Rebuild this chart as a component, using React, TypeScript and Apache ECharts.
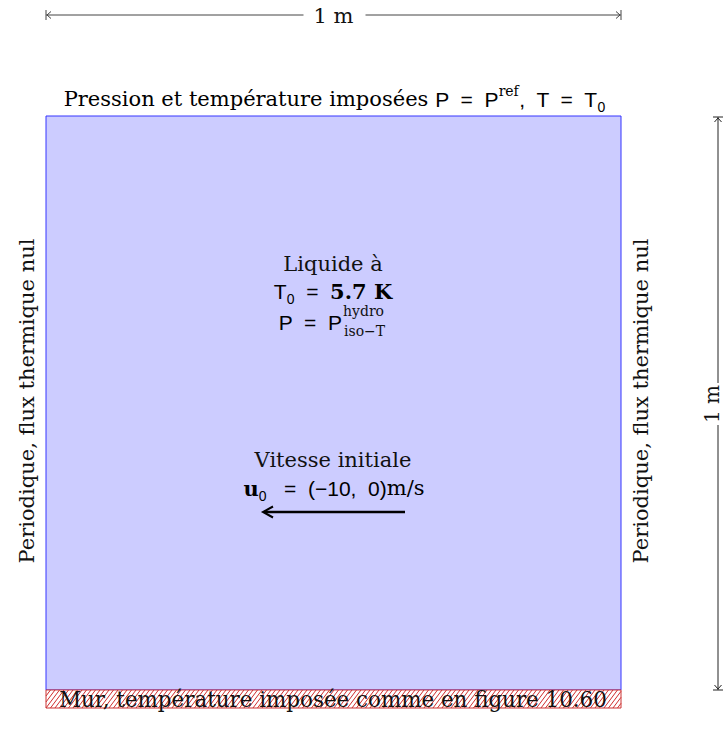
import React, { useEffect, useRef } from "react";
import * as echarts from "echarts";

// ---- data ----
const domainX = [0, 1]; // metres
const domainY = [0, 1]; // metres
const wallThickness = 0.0314; // drawn thickness of the wall band (fraction of domain)
const regionKinds = ["liquid", "wall"];
const regions = [
  [domainX[0], domainX[1], domainY[0], domainY[1], 0],
  [domainX[0], domainX[1], -wallThickness, domainY[0], 1],
];
const dimensionLabel = "1 m";
const topTitle = "Pression et température imposées ";
const sideLabel = "Periodique, flux thermique nul";
const wallLabel = "Mur, température imposée comme en figure 10.60";
const liquidLabel = "Liquide à";
const temperatureValue = "5.7 K";
const velocityTitle = "Vitesse initiale";
const velocityValue = "(−10, 0)";
const velocityUnit = "m/s";

const SERIF = '"DejaVu Serif", "Liberation Serif", serif';
const SANS = '"Liberation Sans", "DejaVu Sans", sans-serif';
const FS = 21;
const SS = 14;

export default function App() {
  const ref = useRef<HTMLDivElement>(null);
  useEffect(() => {
    if (!ref.current) return;
    const chart = echarts.init(ref.current, undefined, { renderer: "svg" });

    const L = 46, R = 621, T = 116, Bliq = 690;
    const cx = (L + R) / 2;
    const dimY = 15;
    const dimX = 718;
    const midY = (T + Bliq) / 2;

    const mathRich = {
      s: { fontFamily: SERIF, fontSize: FS, color: "#111", lineHeight: 30 },
      m: { fontFamily: SANS, fontSize: FS, color: "#111", lineHeight: 30 },
      sup: { fontFamily: SERIF, fontSize: SS, color: "#111", verticalAlign: "top", lineHeight: 26 },
      sub: { fontFamily: SANS, fontSize: SS, color: "#111", verticalAlign: "bottom", lineHeight: 24 },
      b: { fontFamily: SERIF, fontSize: FS, fontWeight: "bold", color: "#111", lineHeight: 30 },
    };

    const graphic: any[] = [
      // top dimension line
      { type: "line", shape: { x1: L, y1: dimY, x2: cx - 30, y2: dimY }, style: { stroke: "#444", lineWidth: 1 } },
      { type: "line", shape: { x1: cx + 32, y1: dimY, x2: R, y2: dimY }, style: { stroke: "#444", lineWidth: 1 } },
      { type: "line", shape: { x1: L, y1: dimY - 5, x2: L, y2: dimY + 5 }, style: { stroke: "#444", lineWidth: 1 } },
      { type: "line", shape: { x1: R, y1: dimY - 5, x2: R, y2: dimY + 5 }, style: { stroke: "#444", lineWidth: 1 } },
      { type: "polyline", shape: { points: [[L + 5, dimY - 3.5], [L + 1, dimY], [L + 5, dimY + 3.5]] }, style: { stroke: "#444", lineWidth: 1, fill: null } },
      { type: "polyline", shape: { points: [[R - 5, dimY - 3.5], [R - 1, dimY], [R - 5, dimY + 3.5]] }, style: { stroke: "#444", lineWidth: 1, fill: null } },
      { type: "text", x: cx, y: dimY + 1, style: { text: dimensionLabel, font: `${FS}px ${SERIF}`, fill: "#111", align: "center", verticalAlign: "middle" } },

      // right dimension line
      { type: "line", shape: { x1: dimX, y1: T + 1, x2: dimX, y2: midY - 20 }, style: { stroke: "#222", lineWidth: 1 } },
      { type: "line", shape: { x1: dimX, y1: midY + 22, x2: dimX, y2: Bliq }, style: { stroke: "#222", lineWidth: 1 } },
      { type: "line", shape: { x1: dimX - 5, y1: T + 1, x2: dimX + 5, y2: T + 1 }, style: { stroke: "#222", lineWidth: 1 } },
      { type: "line", shape: { x1: dimX - 5, y1: Bliq, x2: dimX + 5, y2: Bliq }, style: { stroke: "#222", lineWidth: 1 } },
      { type: "polyline", shape: { points: [[dimX - 3.5, T + 6], [dimX, T + 2], [dimX + 3.5, T + 6]] }, style: { stroke: "#222", lineWidth: 1, fill: null } },
      { type: "polyline", shape: { points: [[dimX - 3.5, Bliq - 5], [dimX, Bliq - 1], [dimX + 3.5, Bliq - 5]] }, style: { stroke: "#222", lineWidth: 1, fill: null } },
      { type: "text", x: dimX - 6, y: midY + 1, rotation: Math.PI / 2, style: { text: dimensionLabel, font: `${FS - 1}px ${SERIF}`, fill: "#111", align: "center", verticalAlign: "middle" } },

      // top title
      {
        type: "text", x: cx + 1, y: 99,
        style: {
          text: `{s|${topTitle}}{m|P  =  P}{sup|ref}{m|,  T  =  T}{sub|0}`,
          rich: mathRich, align: "center", verticalAlign: "middle",
        },
      },

      // side labels
      { type: "text", x: 27, y: 401, rotation: Math.PI / 2, style: { text: sideLabel, font: `${FS}px ${SERIF}`, fill: "#111", align: "center", verticalAlign: "middle" } },
      { type: "text", x: 641, y: 401, rotation: Math.PI / 2, style: { text: sideLabel, font: `${FS}px ${SERIF}`, fill: "#111", align: "center", verticalAlign: "middle" } },

      // liquid block
      { type: "text", x: 333, y: 264, style: { text: liquidLabel, font: `${FS}px ${SERIF}`, fill: "#111", align: "center", verticalAlign: "middle" } },
      {
        type: "text", x: 333, y: 291,
        style: { text: `{m|T}{sub|0}{m|  =  }{b|${temperatureValue}}`, rich: mathRich, align: "center", verticalAlign: "middle" },
      },
      { type: "text", x: 342, y: 322, style: { text: "{m|P  =  P}", rich: mathRich, align: "right", verticalAlign: "middle" } },
      { type: "text", x: 343, y: 311, style: { text: "hydro", font: `${SS}px ${SERIF}`, fill: "#111", align: "left", verticalAlign: "middle" } },
      { type: "text", x: 344, y: 331, style: { text: "iso−T", font: `${SS}px ${SERIF}`, fill: "#111", align: "left", verticalAlign: "middle" } },

      // velocity block
      { type: "text", x: 333, y: 460, style: { text: velocityTitle, font: `${FS}px ${SERIF}`, fill: "#111", align: "center", verticalAlign: "middle" } },
      {
        type: "text", x: 334, y: 488,
        style: { text: `{b|u}{sub|0}{m|   =  (−10,  0)}{s|${velocityUnit}}`, rich: mathRich, align: "center", verticalAlign: "middle" },
      },
      { type: "line", shape: { x1: 405, y1: 512, x2: 264, y2: 512 }, style: { stroke: "#000", lineWidth: 2.3 } },
      { type: "polyline", shape: { points: [[273, 506.5], [263, 512], [273, 517.5]] }, style: { stroke: "#000", lineWidth: 2, fill: null } },

      // wall label
      { type: "text", x: 333, y: 699, style: { text: wallLabel, font: `${FS + 0.4}px ${SERIF}`, fill: "#111", align: "center", verticalAlign: "middle" } },
    ].map((g) => ({ ...g, z: 100 }));

    chart.setOption({
      animation: false,
      grid: { left: L, right: 724 - R, top: T, bottom: 735 - 708 },
      xAxis: { type: "value", min: domainX[0], max: domainX[1], show: false },
      yAxis: { type: "value", min: -wallThickness, max: domainY[1], show: false },
      series: [
        {
          type: "custom",
          coordinateSystem: "cartesian2d",
          clip: false,
          z: 1,
          data: regions,
          renderItem: (params: any, api: any) => {
            const x0 = api.value(0), x1 = api.value(1), y0 = api.value(2), y1 = api.value(3);
            const kind = regionKinds[api.value(4)];
            const p0 = api.coord([x0, y1]);
            const p1 = api.coord([x1, y0]);
            const left = p0[0], top = p0[1], w = p1[0] - p0[0], h = p1[1] - p0[1];
            if (kind === "liquid") {
              return {
                type: "rect",
                shape: { x: left, y: top, width: w, height: h },
                style: { fill: "#ccccff", stroke: "#3535ff", lineWidth: 1 },
              };
            }
            const children: any[] = [
              { type: "rect", shape: { x: left, y: top, width: w, height: h }, style: { fill: "#ffffff", stroke: null } },
            ];
            const step = 4.5;
            const dx = h * 0.75;
            const right = left + w;
            const bottom = top + h;
            for (let xs = left - dx; xs < right; xs += step) {
              let sx = xs, sy = bottom, ex = xs + dx, ey = top;
              if (sx < left) { sy = bottom - (left - sx) * (h / dx); sx = left; }
              if (ex > right) { ey = bottom - (right - xs) * (h / dx); ex = right; }
              children.push({ type: "line", shape: { x1: sx, y1: sy, x2: ex, y2: ey }, style: { stroke: "#c81414", lineWidth: 0.9 } });
            }
            children.push({ type: "rect", shape: { x: left, y: top, width: w, height: h }, style: { fill: null, stroke: "#cc3333", lineWidth: 1 } });
            return { type: "group", children };
          },
        },
      ],
      graphic,
    });
    return () => chart.dispose();
  }, []);
  return <div ref={ref} style={{ width: 724, height: 735, position: "absolute", left: 0, top: 0, background: "#fff" }} />;
}
